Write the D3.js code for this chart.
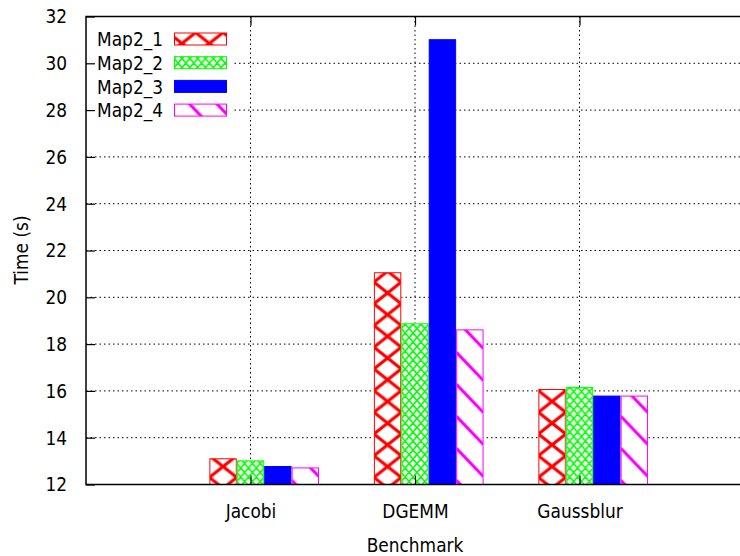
<!DOCTYPE html>
<html lang="en">
<head>
<meta charset="utf-8">
<title>Benchmark times</title>
<style>
  body { margin: 0; background: #fff; }
  svg { display: block; }
  text { font-family: "DejaVu Sans", sans-serif; fill: #000; }
</style>
</head>
<body>
<svg id="chart"></svg>
<script src="https://d3js.org/d3.v7.min.js"></script>
<script>
// data
var categories = ["Jacobi", "DGEMM", "Gaussblur"];
var seriesNames = ["Map2_1", "Map2_2", "Map2_3", "Map2_4"];
var map2_1 = [13.12, 21.07, 16.08];
var map2_2 = [13.03, 18.89, 16.17];
var map2_3 = [12.79, 31.03, 15.80];
var map2_4 = [12.73, 18.63, 15.80];
var yTicks = [12, 14, 16, 18, 20, 22, 24, 26, 28, 30, 32];

var allSeries = [map2_1, map2_2, map2_3, map2_4];
var colors = ["#ff0000", "#00ff00", "#0000ff", "#ff00ff"];

var W = 740, H = 556;
var plotL = 86, plotR = 744, plotT = 16.5, plotB = 484.5;
var fontSize = "17px", stretchY = 1.18; // the original font is a bit taller

var svg = d3.select("#chart").attr("width", W).attr("height", H);

// gnuplot-ish: category i sits at x = i, range -1..3
var x = d3.scaleLinear().domain([-1, 3]).range([plotL, plotR]);
var y = d3.scaleLinear().domain([12, 32]).range([plotB, plotT]);
var bw = (x(1) - x(0)) / 6; // one bar width, gap of 2 bars

// move x/y into a transform so the glyphs can be stretched vertically
function stretch(sel, extra) {
  sel.each(function() {
    var t = d3.select(this);
    var tx = +t.attr("x") || 0, ty = +t.attr("y") || 0;
    t.attr("x", 0).attr("y", 0)
      .attr("transform", "translate(" + tx + "," + ty + ")" + (extra || "") + " scale(1," + stretchY + ")");
  });
}

// fill patterns
var defs = svg.append("defs");
var x0 = x(0) - 1.5 * bw;

// red: big crosshatch
var p1h = 21.7;
var p1 = defs.append("pattern").attr("id", "pat0").attr("patternUnits", "userSpaceOnUse")
    .attr("x", x0).attr("y", 0).attr("width", bw).attr("height", p1h);
[-1, 0, 1].forEach(function(k) {
  p1.append("line").attr("x1", 0).attr("y1", k * p1h).attr("x2", bw).attr("y2", (k + 1) * p1h)
    .attr("stroke", colors[0]).attr("stroke-width", 3.2);
  p1.append("line").attr("x1", bw).attr("y1", k * p1h).attr("x2", 0).attr("y2", (k + 1) * p1h)
    .attr("stroke", colors[0]).attr("stroke-width", 3.2);
});

// green: fine crosshatch
var p2w = bw / 3.5, p2h = 9;
var p2 = defs.append("pattern").attr("id", "pat1").attr("patternUnits", "userSpaceOnUse")
    .attr("x", x0).attr("y", 0).attr("width", p2w).attr("height", p2h);
[-1, 0, 1].forEach(function(k) {
  p2.append("line").attr("x1", 0).attr("y1", k * p2h).attr("x2", p2w).attr("y2", (k + 1) * p2h)
    .attr("stroke", colors[1]).attr("stroke-width", 1.6);
  p2.append("line").attr("x1", p2w).attr("y1", k * p2h).attr("x2", 0).attr("y2", (k + 1) * p2h)
    .attr("stroke", colors[1]).attr("stroke-width", 1.6);
});

// magenta: back-slash lines
var p4h = 32, drop = bw * 1.05;
var p4 = defs.append("pattern").attr("id", "pat3").attr("patternUnits", "userSpaceOnUse")
    .attr("x", x0).attr("y", 0).attr("width", bw).attr("height", p4h);
[-2, -1, 0, 1].forEach(function(k) {
  p4.append("line").attr("x1", 0).attr("y1", k * p4h).attr("x2", bw).attr("y2", k * p4h + drop)
    .attr("stroke", colors[3]).attr("stroke-width", 3);
});

function fillFor(i) {
  return i === 2 ? colors[2] : "url(#pat" + i + ")";
}

// grid
svg.append("g").selectAll("line").data(yTicks.slice(1, -1)).enter().append("line")
    .attr("x1", plotL).attr("x2", plotR)
    .attr("y1", function(d) { return y(d); }).attr("y2", function(d) { return y(d); })
    .attr("stroke", "#000").attr("stroke-width", 1).attr("stroke-dasharray", "1.5,3");
svg.append("g").selectAll("line").data(categories).enter().append("line")
    .attr("x1", function(d, i) { return x(i); }).attr("x2", function(d, i) { return x(i); })
    .attr("y1", plotT).attr("y2", plotB)
    .attr("stroke", "#000").attr("stroke-width", 1).attr("stroke-dasharray", "1.5,3");

// bars
allSeries.forEach(function(vals, s) {
  svg.append("g").selectAll("rect").data(vals).enter().append("rect")
      .attr("x", function(d, i) { return x(i) + (s - 1.5) * bw; })
      .attr("y", function(d) { return y(d); })
      .attr("width", bw)
      .attr("height", function(d) { return y(12) - y(d); })
      .attr("fill", "#fff");
  svg.append("g").selectAll("rect").data(vals).enter().append("rect")
      .attr("x", function(d, i) { return x(i) + (s - 1.5) * bw + 0.5; })
      .attr("y", function(d) { return y(d) + 0.5; })
      .attr("width", bw - 1)
      .attr("height", function(d) { return y(12) - y(d) - 0.5; })
      .attr("fill", fillFor(s))
      .attr("stroke", colors[s]).attr("stroke-width", 1);
});

// legend (opaque box)
var legY0 = 39, legDy = 23.7;
var leg = svg.append("g");
leg.append("rect").attr("x", plotL + 1).attr("y", 25).attr("width", 146).attr("height", 98).attr("fill", "#fff");
seriesNames.forEach(function(name, s) {
  var cy = legY0 + s * legDy;
  leg.append("text").attr("x", 163).attr("y", cy).attr("dy", "0.36em")
      .attr("text-anchor", "end").style("font-size", fontSize).text(name);
  leg.append("rect").attr("x", 174.5).attr("y", cy - 6).attr("width", 52).attr("height", 12)
      .attr("fill", fillFor(s)).attr("stroke", colors[s]).attr("stroke-width", 1);
});
stretch(leg.selectAll("text"));

// axes
var yAxis = d3.axisLeft(y).tickValues(yTicks).tickSizeInner(-9).tickSizeOuter(0).tickPadding(19);
var gy = svg.append("g").attr("transform", "translate(" + plotL + ",0)").call(yAxis);
var xAxis = d3.axisBottom(x).tickValues([0, 1, 2]).tickFormat(function(d) { return categories[d]; })
    .tickSizeInner(-9).tickSizeOuter(0).tickPadding(19);
var gx = svg.append("g").attr("transform", "translate(0," + plotB + ")").call(xAxis);
var xTop = d3.axisTop(x).tickValues([0, 1, 2]).tickFormat("").tickSizeInner(-9).tickSizeOuter(0);
var gt = svg.append("g").attr("transform", "translate(0," + plotT + ")").call(xTop);
[gy, gx, gt].forEach(function(g) {
  g.select(".domain").remove();
  g.selectAll(".tick line").attr("stroke", "#000").attr("stroke-width", 1.2);
  g.selectAll("text").style("font-size", fontSize).attr("fill", "#000").style("font-family", "DejaVu Sans, sans-serif");
  stretch(g.selectAll("text"));
});

// border (left, top, bottom)
svg.append("path")
    .attr("d", "M" + plotR + "," + plotT + "H" + plotL + "V" + plotB + "H" + plotR)
    .attr("fill", "none").attr("stroke", "#000").attr("stroke-width", 1.5);

// axis titles
var xt = svg.append("text").attr("x", 415).attr("y", 552).attr("text-anchor", "middle")
    .style("font-size", fontSize).text("Benchmark");
stretch(xt);
var yt = svg.append("text").attr("x", 28).attr("y", 250).attr("text-anchor", "middle")
    .style("font-size", fontSize).text("Time (s)");
stretch(yt, " rotate(-90)");
</script>
</body>
</html>
